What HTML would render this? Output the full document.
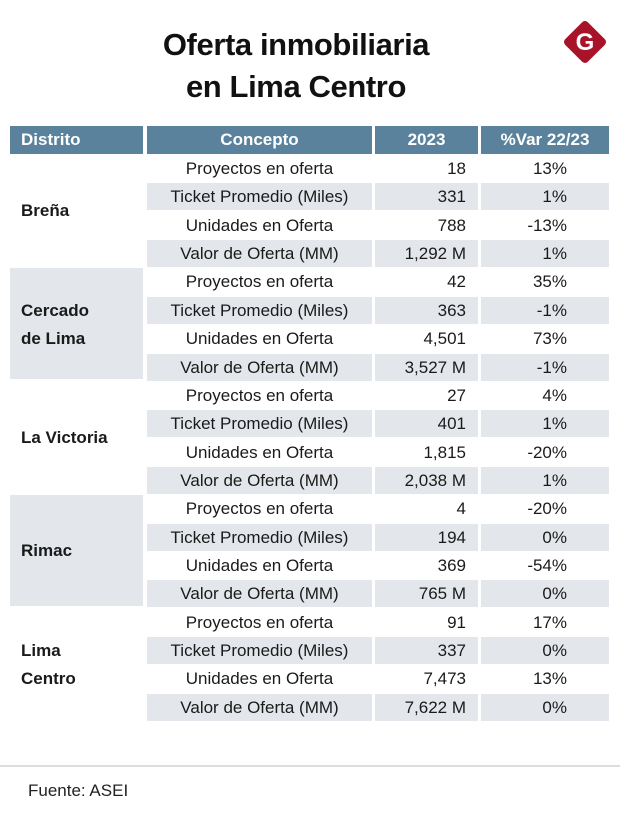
<!DOCTYPE html>
<html><head><meta charset="utf-8">
<style>
body{margin:0;width:620px;height:827px;background:#fff;font-family:"Liberation Sans",sans-serif;position:relative;overflow:hidden;color:#1a1a1a}
.a{position:absolute}
.title{left:0;width:592px;text-align:center;font-weight:bold;font-size:31px;color:#111;letter-spacing:-0.4px}
.hd{background:#5b829d;color:#fff;font-weight:bold;font-size:17px;height:28px;line-height:28px;top:126px}
.cell{height:27px;line-height:27px;font-size:17px}
.g{background:#e3e7eb}
.dist{font-weight:bold;font-size:17px;left:21px}
</style></head><body>
<div class="a title" style="top:27px">Oferta inmobiliaria</div>
<div class="a title" style="top:69px">en Lima Centro</div>
<svg class="a" style="left:561px;top:18px" width="48" height="48">
<rect x="8" y="8" width="32" height="32" rx="4" fill="#a8132a" transform="rotate(45 24 24)"/>
<text x="24" y="32" text-anchor="middle" font-family="Liberation Sans" font-weight="bold" font-size="24" fill="#fff">G</text></svg>
<div class="a hd" style="left:10px;width:133px;padding-left:11px;box-sizing:border-box">Distrito</div>
<div class="a hd" style="left:147px;width:225px;text-align:center">Concepto</div>
<div class="a hd" style="left:375px;width:103px;text-align:center">2023</div>
<div class="a hd" style="left:481px;width:128px;text-align:center">%Var 22/23</div>
<div id="tbl"></div>
<div class="a" style="left:0;top:765px;width:620px;height:2px;background:#ddd"></div>
<div class="a" style="left:28px;top:781px;font-size:17px;color:#222">Fuente: ASEI</div>
<script>
const districts=[["Breña"],["Cercado","de Lima"],["La Victoria"],["Rimac"],["Lima","Centro"]];
const concepts=["Proyectos en oferta","Ticket Promedio (Miles)","Unidades en Oferta","Valor de Oferta (MM)"];
const values2023=[["18","331","788","1,292 M"],["42","363","4,501","3,527 M"],["27","401","1,815","2,038 M"],["4","194","369","765 M"],["91","337","7,473","7,622 M"]];
const varPct=[["13%","1%","-13%","1%"],["35%","-1%","73%","-1%"],["4%","1%","-20%","1%"],["-20%","0%","-54%","0%"],["17%","0%","13%","0%"]];
const tbl=document.getElementById('tbl');
function mk(cls,style,txt){const d=document.createElement('div');d.className='a '+cls;d.style.cssText=style;d.textContent=txt;tbl.appendChild(d);return d;}
districts.forEach((dn,gi)=>{
 const gy=155+gi*113.4;
 if(gi%2==1){const bg=mk('g',`left:10px;top:${gy}px;width:133px;height:111px`,'');
  
  }
 dn.forEach((line,li)=>{
  const ty=dn.length==1?gy+42:gy+28.4+li*28.4;
  const d=mk('dist cell',`top:${ty}px`,line);
  
  
 });
 concepts.forEach((c,ri)=>{
  const y=gy+ri*28.4;const g=ri%2==1?'g ':'';
  const c1=mk(g+'cell',`left:147px;top:${y}px;width:225px;text-align:center`,c);
  
  
  const c2=mk(g+'cell',`left:375px;top:${y}px;width:103px;text-align:right;padding-right:12px;box-sizing:border-box`,values2023[gi][ri]);
  
  
  const c3=mk(g+'cell',`left:481px;top:${y}px;width:128px;text-align:right;padding-right:42px;box-sizing:border-box`,varPct[gi][ri]);
  
  
 });
});
</script>
</body></html>
